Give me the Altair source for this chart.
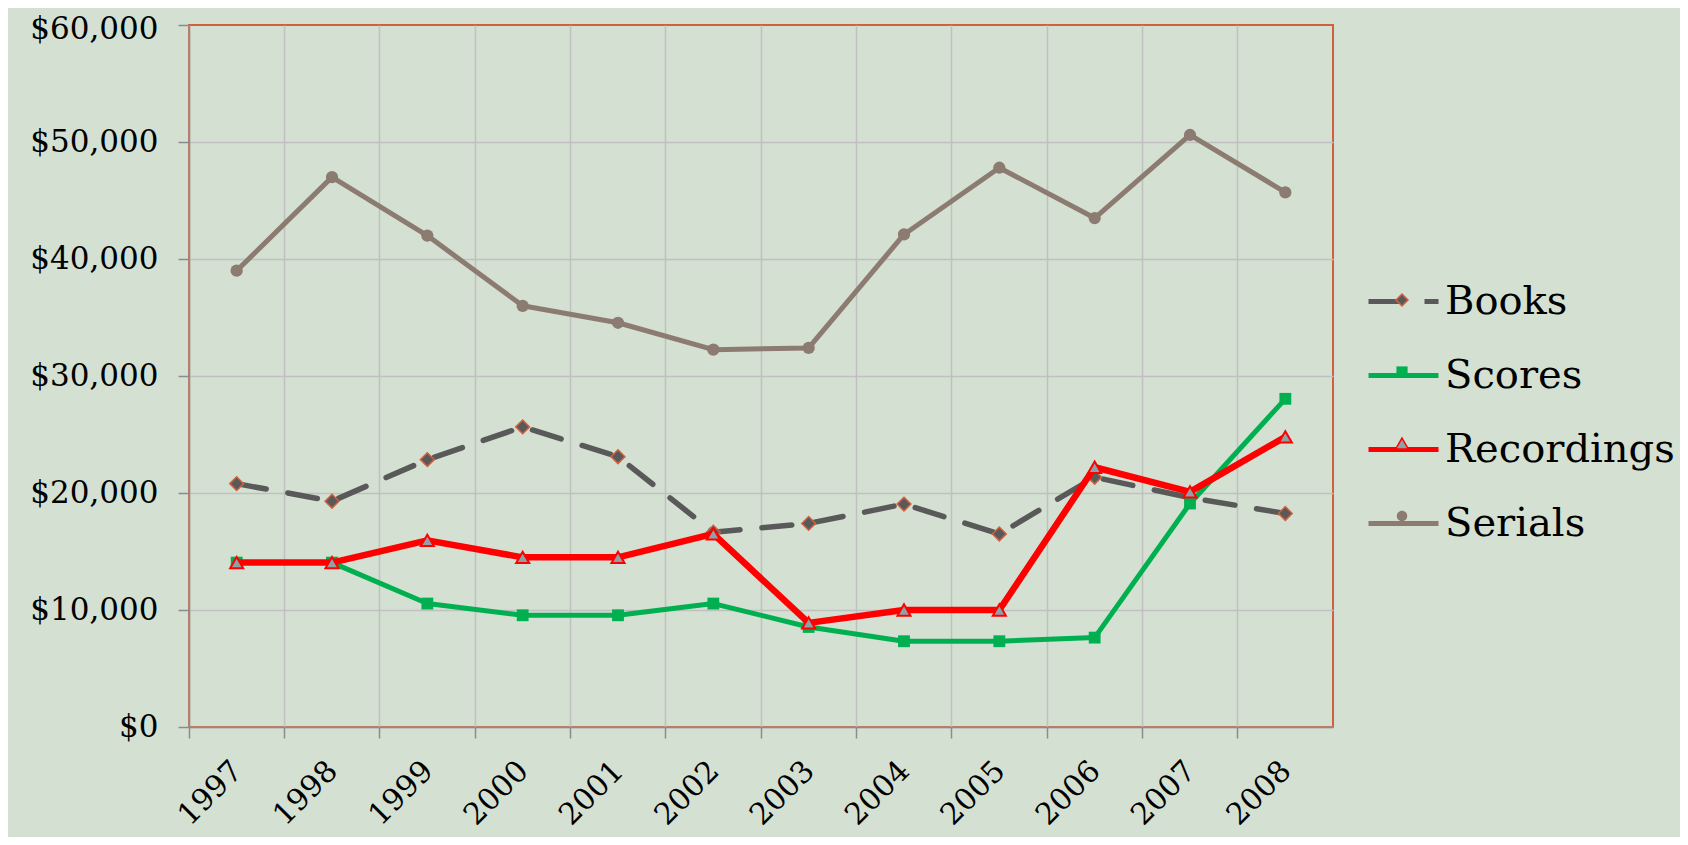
import altair as alt
import pandas as pd

# ---------------- data ----------------
years = [str(y) for y in range(1997, 2009)]
series_names = ["Books", "Scores", "Recordings", "Serials"]
books = [20800, 19300, 22850, 25650, 23100, 16650, 17400, 19050, 16500, 21350, 19600, 18250]
scores = [14050, 14050, 10550, 9550, 9550, 10550, 8550, 7330, 7330, 7640, 19100, 28050]
recordings = [14050, 14050, 15950, 14500, 14500, 16500, 8900, 10000, 10000, 22200, 20100, 24800]
serials = [39000, 47000, 42000, 36000, 34550, 32250, 32400, 42100, 47800, 43500, 50600, 45700]
y_ticks = [0, 10000, 20000, 30000, 40000, 50000, 60000]

values = {"Books": books, "Scores": scores, "Recordings": recordings, "Serials": serials}
rows = []
for s in series_names:
    for yr, v in zip(years, values[s]):
        rows.append({"year": yr, "series": s, "value": v})
df = pd.DataFrame(rows)

# ---------------- styles ----------------
FONT = "DejaVu Serif"
BG = "#d4e0d2"
line_colors = ["#595959", "#00b050", "#ff0000", "#8c7b70"]
line_widths = [5.5, 5, 6.5, 5]
line_dash = [[30, 22], None, None, None]
marker_shapes = ["diamond", "square", "triangle-up", "circle"]
marker_sizes = [190, 140, 170, 150]
marker_fills = ["#595959", "#00b050", "#8fa1a8", "#8c7b70"]
marker_strokes = ["#d0603f", "#00b050", "#ff0000", "#8c7b70"]
marker_stroke_w = [1.5, 0, 2, 0]

# legend symbol paths (unit box -1..1)
legend_line_paths = [
    "M-1,0H-0.1M0.6,0H1",
    "M-1,0H1",
    "M-1,0H1",
    "M-1,0H1",
]
legend_marker_paths = [
    "M0,-0.17L0.17,0L0,0.17L-0.17,0Z",
    "M-0.16,-0.16H0.16V0.16H-0.16Z",
    "M0,-0.17L0.18,0.14H-0.18Z",
    "M0.15,0A0.15,0.15,0,1,1,-0.15,0A0.15,0.15,0,1,1,0.15,0Z",
]
legend_marker_strokes = ["#d0603f", "transparent", "#ff0000", "transparent"]

x_enc = alt.X(
    "year:N",
    sort=years,
    scale=alt.Scale(type="band", paddingInner=0, paddingOuter=0),
    axis=alt.Axis(
        title=None,
        bandPosition=0,
        grid=True,
        gridColor="#c0c0c0",
        gridWidth=1.5,
        ticks=True,
        tickSize=11,
        tickColor="#8c8c8c",
        tickWidth=1.5,
        domainColor="#8c8c8c",
        domainWidth=1.5,
        labelAngle=-45,
        labelAlign="right",
        labelBaseline="middle",
        labelPadding=28,
        labelOffset=1,
        labelFont=FONT,
        labelFontSize=30,
        labelColor="black",
    ),
)
y_enc = alt.Y(
    "value:Q",
    scale=alt.Scale(domain=[0, 60000], nice=False, zero=True),
    axis=alt.Axis(
        title=None,
        values=y_ticks,
        format="$,.0f",
        grid=True,
        gridColor={"condition": {"test": "datum.value === 60000", "value": "transparent"}, "value": "#c0c0c0"},
        gridWidth=1.5,
        ticks=True,
        tickSize=11,
        tickColor="#8c8c8c",
        tickWidth=1.5,
        domainColor="#8c8c8c",
        domainWidth=1.5,
        labelPadding=20,
        labelOffset={"condition": {"test": "datum.value === 60000", "value": 4}, "value": 0},
        labelFont=FONT,
        labelFontSize=31,
        labelColor="black",
    ),
)

base = alt.Chart(df)
layers = []
for i, s in enumerate(series_names):
    line_kwargs = dict(color=line_colors[i], strokeWidth=line_widths[i],
                       strokeCap="round", strokeJoin="round")
    if line_dash[i]:
        line_kwargs["strokeDash"] = line_dash[i]
    layers.append(
        base.transform_filter(alt.datum.series == s).mark_line(**line_kwargs).encode(x=x_enc, y=y_enc)
    )
    pt_kwargs = dict(shape=marker_shapes[i], size=marker_sizes[i], filled=True,
                     fill=marker_fills[i], opacity=1)
    if marker_stroke_w[i] > 0:
        pt_kwargs["stroke"] = marker_strokes[i]
        pt_kwargs["strokeWidth"] = marker_stroke_w[i]
    else:
        pt_kwargs["strokeWidth"] = 0
    layers.append(
        base.transform_filter(alt.datum.series == s).mark_point(**pt_kwargs).encode(x=x_enc, y=y_enc)
    )

LEG_X = 1177
LEG_Y = 239
common_leg = dict(
    title=None, orient="none", legendX=LEG_X, legendY=LEG_Y, padding=0, rowPadding=16,
    symbolSize=4900, labelFont=FONT, labelFontSize=40, labelLimit=500, labelOffset=4,
)
legend_lines = alt.Legend(symbolStrokeWidth=5, labelColor="black", zindex=0, **common_leg)
legend_markers = alt.Legend(symbolStrokeWidth=1.5, labelColor="transparent", labelExpr="''",
                            zindex=1, **common_leg)

leg_line_layer = base.transform_filter("false").mark_point(filled=False, opacity=1).encode(
    stroke=alt.Stroke("series:N", scale=alt.Scale(domain=series_names, range=line_colors), legend=legend_lines),
    shape=alt.Shape("series:N", scale=alt.Scale(domain=series_names, range=legend_line_paths), legend=legend_lines),
)
leg_marker_layer = base.transform_calculate(series2="datum.series").transform_filter("false").mark_point(
    filled=True, opacity=1, strokeWidth=1.5
).encode(
    fill=alt.Fill("series2:N", scale=alt.Scale(domain=series_names, range=marker_fills), legend=legend_markers),
    stroke=alt.Stroke("series2:N", scale=alt.Scale(domain=series_names, range=legend_marker_strokes), legend=legend_markers),
    shape=alt.Shape("series2:N", scale=alt.Scale(domain=series_names, range=legend_marker_paths), legend=legend_markers),
)

chart = alt.layer(*layers, leg_line_layer, leg_marker_layer).resolve_scale(
    stroke="independent", shape="independent", fill="independent"
).properties(
    width=1144,
    height=702,
    background=BG,
    padding={"left": 181, "top": 17, "right": 347, "bottom": 110},
    autosize=alt.AutoSizeParams(type="none"),
).configure_view(
    stroke="#d0603f", strokeWidth=2
)

chart.save("out.html", embed_options={"renderer": "svg", "actions": False})
